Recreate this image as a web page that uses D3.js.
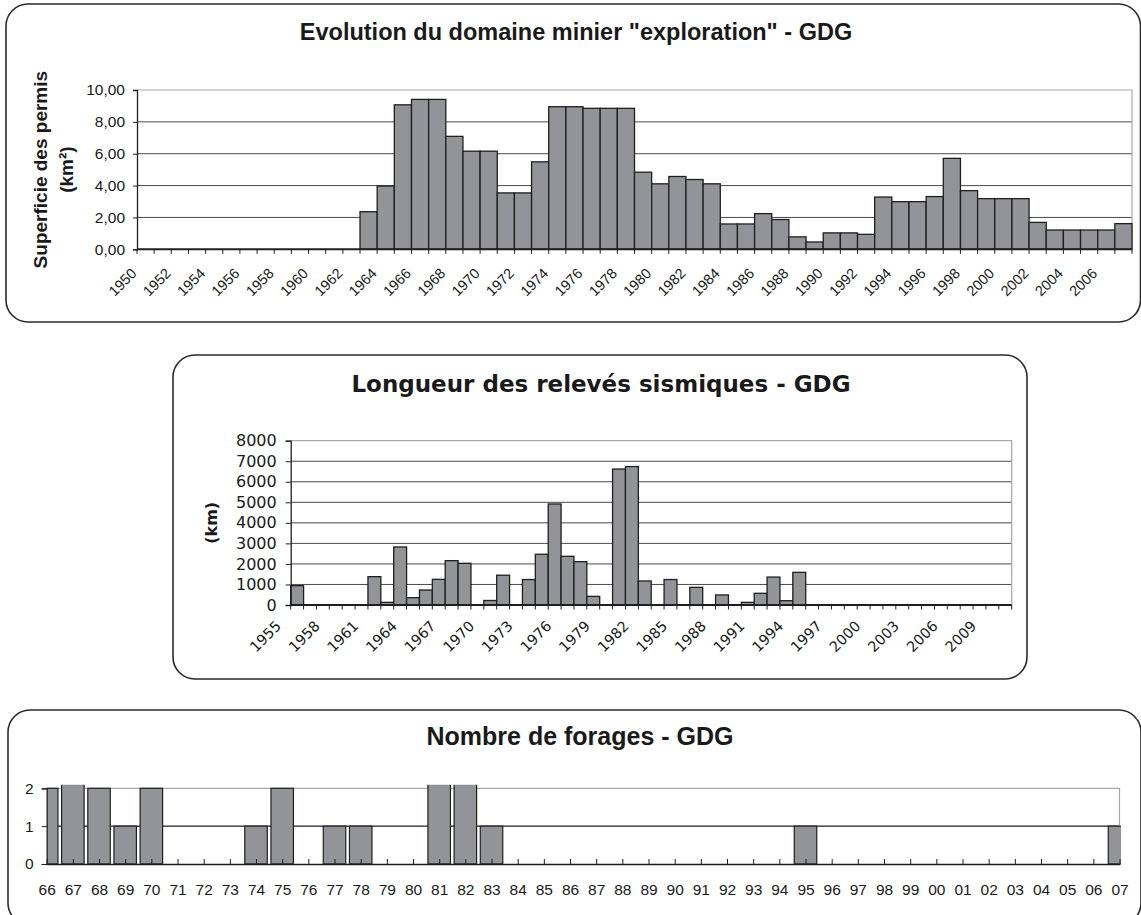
<!DOCTYPE html>
<html>
<head>
<meta charset="utf-8">
<script src="https://cdn.jsdelivr.net/npm/d3@7"></script>
<style>
  html, body { margin: 0; padding: 0; background: #fff; }
  svg { display: block; }
</style>
</head>
<body>
<svg id="page" width="1141" height="915"></svg>
<script>
// ---------- Data ----------
// Surface of "exploration" mining permits per year (km²)
const permisYears = [1950,1951,1952,1953,1954,1955,1956,1957,1958,1959,1960,1961,1962,1963,1964,1965,1966,1967,1968,1969,1970,1971,1972,1973,1974,1975,1976,1977,1978,1979,1980,1981,1982,1983,1984,1985,1986,1987,1988,1989,1990,1991,1992,1993,1994,1995,1996,1997,1998,1999,2000,2001,2002,2003,2004,2005,2006,2007];
const permisArea = [0,0,0,0,0,0,0,0,0,0,0,0,0,2.36,3.97,9.07,9.41,9.41,7.09,6.16,6.16,3.54,3.54,5.49,8.95,8.95,8.85,8.85,8.85,4.84,4.11,4.57,4.38,4.11,1.59,1.59,2.24,1.87,0.78,0.46,1.03,1.03,0.94,3.28,2.99,2.99,3.31,5.71,3.68,3.18,3.18,3.18,1.69,1.21,1.21,1.21,1.21,1.61];
const permisTicks = [0,2,4,6,8,10];

// Length of seismic surveys per year (km)
const sismicYears = [1955,1956,1957,1958,1959,1960,1961,1962,1963,1964,1965,1966,1967,1968,1969,1970,1971,1972,1973,1974,1975,1976,1977,1978,1979,1980,1981,1982,1983,1984,1985,1986,1987,1988,1989,1990,1991,1992,1993,1994,1995,1996,1997,1998,1999,2000,2001,2002,2003,2004,2005,2006,2007,2008,2009,2010];
const sismicKm = [940,0,0,0,0,0,1380,130,2825,357,730,1250,2160,2030,0,220,1450,0,1240,2470,4920,2370,2110,420,0,6620,6740,1170,0,1240,0,860,0,490,0,130,570,1360,210,1590,0,0,0,0,0,0,0,0,0,0,0,0,0,0,0,0];
const sismicTicks = [0,1000,2000,3000,4000,5000,6000,7000,8000];

// Number of wells drilled per year
const forageYears = ["66","67","68","69","70","71","72","73","74","75","76","77","78","79","80","81","82","83","84","85","86","87","88","89","90","91","92","93","94","95","96","97","98","99","00","01","02","03","04","05","06","07"];
const forageCount = [2,3,2,1,2,0,0,0,1,2,0,1,1,0,0,3,3,1,0,0,0,0,0,0,0,0,0,0,0,1,0,0,0,0,0,0,0,0,0,0,0,1];
const forageTicks = [0,1,2];

// ---------- Styles ----------
const BAR_FILL = "#939498";
const BAR_STROKE = "#1f1f1f";
const GRID = "#4a4a4a";
const BORDER = "#a8a8a8";
const AXIS = "#1f1f1f";
const FRAME = "#2b2b2b";
const ARIAL = "'Liberation Sans', Arial, Helvetica, sans-serif";
const VERDANA = "'DejaVu Sans', Verdana, sans-serif";

const svg = d3.select("#page");

function frame(x0, y0, x1, y1) {
  svg.append("rect")
    .attr("x", x0).attr("y", y0)
    .attr("width", x1 - x0).attr("height", y1 - y0)
    .attr("rx", 22).attr("ry", 22)
    .attr("fill", "none").attr("stroke", FRAME).attr("stroke-width", 1.6);
}

function title(text, cx, y, size, family) {
  svg.append("text")
    .attr("x", cx).attr("y", y)
    .attr("text-anchor", "middle")
    .attr("font-family", family).attr("font-weight", "bold")
    .attr("font-size", size).attr("fill", "#1a1a1a")
    .text(text);
}

// ---------- Chart 1: permit surface ----------
(function () {
  const L = 137, R = 1132, T = 90, B = 249.3;
  frame(6, 4, 1140.5, 322);
  title('Evolution du domaine minier "exploration" - GDG', 576, 40, 23.5, ARIAL);

  const x = d3.scaleBand().domain(permisYears).range([L, R]).padding(0);
  const y = d3.scaleLinear().domain([0, 10]).range([B, T]);
  const g = svg.append("g");

  // gridlines
  g.selectAll("line.grid").data(permisTicks.filter(t => t > 0 && t < 10)).join("line")
    .attr("x1", L).attr("x2", R).attr("y1", d => y(d)).attr("y2", d => y(d))
    .attr("stroke", GRID).attr("stroke-width", 1);
  // plot border (top, right)
  g.append("path").attr("d", `M${L},${y(10)}H${R}V${B}`)
    .attr("fill", "none").attr("stroke", BORDER).attr("stroke-width", 1.2);

  // bars
  g.selectAll("rect.bar").data(permisYears.map((yr, i) => ({ yr, v: permisArea[i] })).filter(d => d.v > 0))
    .join("rect")
    .attr("x", d => x(d.yr)).attr("width", x.bandwidth())
    .attr("y", d => y(d.v)).attr("height", d => B - y(d.v))
    .attr("fill", BAR_FILL).attr("stroke", BAR_STROKE).attr("stroke-width", 1.3);

  // y axis
  const yAxis = d3.axisLeft(y).tickValues(permisTicks).tickSize(4).tickPadding(8)
    .tickFormat(d => d3.format(".2f")(d).replace(".", ","));
  const ya = g.append("g").attr("transform", `translate(${L},0)`).call(yAxis);
  ya.select(".domain").attr("stroke", AXIS).attr("stroke-width", 1.3);
  ya.selectAll(".tick line").attr("stroke", AXIS);
  ya.selectAll("text").attr("font-family", ARIAL).attr("font-size", 15.5).attr("fill", "#1a1a1a");

  // x axis: ticks at category boundaries
  const bounds = permisYears.map(yr => x(yr)).concat([R]);
  g.selectAll("line.xt").data(bounds).join("line")
    .attr("x1", d => d).attr("x2", d => d).attr("y1", B).attr("y2", B + 4.5)
    .attr("stroke", AXIS).attr("stroke-width", 1);
  g.append("line").attr("x1", L).attr("x2", R).attr("y1", B).attr("y2", B)
    .attr("stroke", AXIS).attr("stroke-width", 2);

  g.selectAll("text.xl").data(permisYears.filter((yr, i) => i % 2 === 0)).join("text")
    .attr("transform", d => `translate(${x(d) + 0.5},${B + 25}) rotate(-45)`)
    .attr("text-anchor", "end")
    .attr("font-family", ARIAL).attr("font-size", 14.5).attr("fill", "#1a1a1a")
    .text(d => d);

  // y axis title
  const yt = g.append("text")
    .attr("transform", `translate(40,${(T + B) / 2}) rotate(-90)`)
    .attr("text-anchor", "middle").attr("dy", "0.35em")
    .attr("font-family", ARIAL).attr("font-weight", "bold").attr("font-size", 19).attr("fill", "#1a1a1a")
    .text("Superficie des permis");
  g.append("text")
    .attr("transform", `translate(66,${(T + B) / 2}) rotate(-90)`)
    .attr("text-anchor", "middle").attr("dy", "0.35em")
    .attr("font-family", ARIAL).attr("font-weight", "bold").attr("font-size", 19).attr("fill", "#1a1a1a")
    .text("(km²)");
})();

// ---------- Chart 2: seismic surveys ----------
(function () {
  const L = 290.7, R = 1011.7, T = 440.7, B = 605;
  frame(173, 355, 1027, 679);
  title("Longueur des relevés sismiques - GDG", 601, 392, 23, VERDANA);

  const x = d3.scaleBand().domain(sismicYears).range([L, R]).padding(0);
  const y = d3.scaleLinear().domain([0, 8000]).range([B, T]);
  const g = svg.append("g");

  g.selectAll("line.grid").data(sismicTicks.filter(t => t > 0 && t < 8000)).join("line")
    .attr("x1", L).attr("x2", R).attr("y1", d => y(d)).attr("y2", d => y(d))
    .attr("stroke", GRID).attr("stroke-width", 1);
  g.append("path").attr("d", `M${L},${y(8000)}H${R}V${B}`)
    .attr("fill", "none").attr("stroke", BORDER).attr("stroke-width", 1.2);

  g.selectAll("rect.bar").data(sismicYears.map((yr, i) => ({ yr, v: sismicKm[i] })).filter(d => d.v > 0))
    .join("rect")
    .attr("x", d => x(d.yr)).attr("width", x.bandwidth())
    .attr("y", d => y(d.v)).attr("height", d => B - y(d.v))
    .attr("fill", BAR_FILL).attr("stroke", BAR_STROKE).attr("stroke-width", 1.3);

  const yAxis = d3.axisLeft(y).tickValues(sismicTicks).tickSize(5).tickPadding(9).tickFormat(d3.format("d"));
  const ya = g.append("g").attr("transform", `translate(${L},0)`).call(yAxis);
  ya.select(".domain").attr("stroke", AXIS).attr("stroke-width", 1.3);
  ya.selectAll(".tick line").attr("stroke", AXIS);
  ya.selectAll("text").attr("font-family", VERDANA).attr("font-size", 16).attr("fill", "#1a1a1a");

  const bounds = sismicYears.map(yr => x(yr)).concat([R]);
  g.selectAll("line.xt").data(bounds).join("line")
    .attr("x1", d => d).attr("x2", d => d).attr("y1", B).attr("y2", B + 4.5)
    .attr("stroke", AXIS).attr("stroke-width", 1);
  g.append("line").attr("x1", L).attr("x2", R).attr("y1", B).attr("y2", B)
    .attr("stroke", AXIS).attr("stroke-width", 1.8);

  g.selectAll("text.xl").data(sismicYears.filter((yr, i) => i % 3 === 0)).join("text")
    .attr("transform", d => `translate(${x(d) + x.bandwidth() / 2 - 15},${B + 22}) rotate(-45)`)
    .attr("text-anchor", "end")
    .attr("font-family", VERDANA).attr("font-size", 14.5).attr("fill", "#1a1a1a")
    .text(d => d);

  g.append("text")
    .attr("transform", `translate(211,${(T + B) / 2}) rotate(-90)`)
    .attr("text-anchor", "middle").attr("dy", "0.35em")
    .attr("font-family", VERDANA).attr("font-weight", "bold").attr("font-size", 16).attr("fill", "#1a1a1a")
    .text("(km)");
})();

// ---------- Chart 3: wells ----------
(function () {
  const L = 46.7, R = 1119.5, T = 788.3, B = 864;
  frame(8, 710, 1141, 925);
  title("Nombre de forages - GDG", 580, 745, 25, ARIAL);

  const x = d3.scalePoint().domain(forageYears).range([L, R]).padding(0);
  const y = d3.scaleLinear().domain([0, 2]).range([B, T]);
  const barW = 22.5;
  const g = svg.append("g");

  g.append("defs").append("clipPath").attr("id", "wellClip")
    .append("rect").attr("x", L).attr("y", T - 3.5).attr("width", 1121 - L).attr("height", B - T + 5);

  g.selectAll("line.grid").data(forageTicks.filter(t => t > 0 && t < 2)).join("line")
    .attr("x1", L).attr("x2", R).attr("y1", d => y(d)).attr("y2", d => y(d))
    .attr("stroke", AXIS).attr("stroke-width", 1.2);
  g.append("path").attr("d", `M${L},${y(2)}H${R}V${B}`)
    .attr("fill", "none").attr("stroke", BORDER).attr("stroke-width", 1.2);

  g.append("g").attr("clip-path", "url(#wellClip)")
    .selectAll("rect").data(forageYears.map((yr, i) => ({ yr, v: forageCount[i] })).filter(d => d.v > 0))
    .join("rect")
    .attr("x", d => x(d.yr) - barW / 2).attr("width", barW)
    .attr("y", d => y(d.v)).attr("height", d => B - y(d.v))
    .attr("fill", BAR_FILL).attr("stroke", BAR_STROKE).attr("stroke-width", 1.2);

  const yAxis = d3.axisLeft(y).tickValues(forageTicks).tickSize(5).tickPadding(8).tickFormat(d3.format("d"));
  const ya = g.append("g").attr("transform", `translate(${L},0)`).call(yAxis);
  ya.select(".domain").attr("stroke", AXIS).attr("stroke-width", 1.2);
  ya.selectAll(".tick line").attr("stroke", AXIS);
  ya.selectAll("text").attr("font-family", ARIAL).attr("font-size", 15.5).attr("fill", "#1a1a1a");

  // x axis with inward ticks at category centres
  const xAxis = d3.axisBottom(x).tickSize(-5).tickPadding(0).tickSizeOuter(0);
  const xa = g.append("g").attr("transform", `translate(0,${B})`).call(xAxis);
  xa.select(".domain").attr("stroke", AXIS).attr("stroke-width", 1.6);
  xa.selectAll(".tick line").attr("stroke", AXIS);
  xa.selectAll("text").attr("y", 31).attr("dy", 0)
    .attr("font-family", ARIAL).attr("font-size", 15.5).attr("fill", "#1a1a1a");
})();
</script>
</body>
</html>
